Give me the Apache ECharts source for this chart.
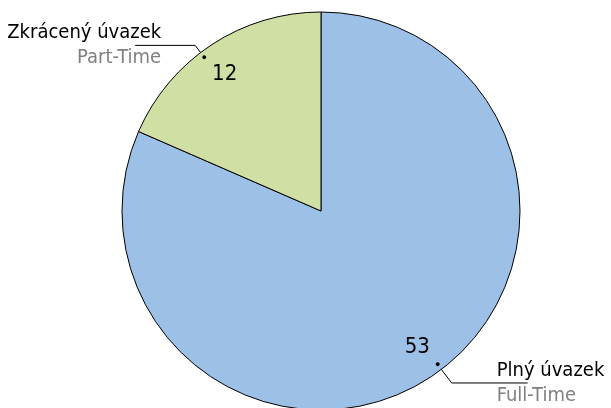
<!DOCTYPE html>
<html>
<head>
<meta charset="utf-8">
<script src="https://cdn.jsdelivr.net/npm/echarts@6/dist/echarts.min.js"></script>
<style>
  html, body { margin: 0; padding: 0; background: #fff; }
  #chart { width: 611px; height: 408px; }
</style>
</head>
<body>
<div id="chart"></div>
<script>
// data
var namesCz = ['Plný úvazek', 'Zkrácený úvazek'];
var namesEn = ['Full-Time', 'Part-Time'];
var values = [53, 12];
var colors = ['#9dc0e6', '#d0dfa3'];

var FONT = '"Liberation Sans Narrow", "DejaVu Sans Condensed", sans-serif';
var myChart = echarts.init(document.getElementById('chart'));

var center = [321, 211];

// main slices
var mainData = values.map(function (v, i) {
    return { value: v, name: namesCz[i], itemStyle: { color: colors[i] } };
});
// invisible copies, only for labels
function ghost(extra) {
    return values.map(function (v, i) {
        var d = { value: v, name: namesCz[i], itemStyle: { color: 'rgba(0,0,0,0)' } };
        if (extra) Object.assign(d, extra(i));
        return d;
    });
}

option = {
    animation: false,
    backgroundColor: '#fff',
    series: [{
        type: 'pie',
        center: center,
        radius: 199,
        startAngle: 90,
        clockwise: true,
        silent: true,
        label: { show: false },
        labelLine: { show: false },
        itemStyle: { borderColor: '#000', borderWidth: 1 },
        data: mainData
    }, {
        // value labels
        type: 'pie',
        center: center,
        radius: [129, 199],
        startAngle: 92,
        silent: true,
        label: {
            show: true,
            position: 'inside',
            formatter: '{c}',
            fontFamily: FONT,
            fontSize: 22,
            color: '#000'
        },
        labelLine: { show: false },
        data: ghost()
    }, {
        // dots at start of leader lines
        type: 'pie',
        center: center,
        radius: [186, 194],
        startAngle: 94,
        silent: true,
        label: {
            show: true,
            position: 'inside',
            formatter: '\u25CF',
            fontSize: 9,
            color: '#000'
        },
        labelLine: { show: false },
        data: ghost()
    }, {
        // category labels with leader lines
        type: 'pie',
        center: center,
        radius: 190,
        startAngle: 94,
        silent: true,
        label: {
            show: true,
            position: 'outside',
            overflow: 'none',
            fontFamily: FONT,
            formatter: function (p) {
                return '{a|' + namesCz[p.dataIndex] + '}\n{b|' + namesEn[p.dataIndex] + '}';
            },
            rich: {
                a: { fontFamily: FONT, fontSize: 20, color: '#000', lineHeight: 25 },
                b: { fontFamily: FONT, fontSize: 20, color: '#808080', lineHeight: 25 }
            }
        },
        labelLine: {
            show: true,
            lineStyle: { color: '#000', width: 1 }
        },
        data: ghost(function (i) {
            return i === 0 ? {
                label: { distanceToLabelLine: -31, align: 'left' },
                labelLine: { length: 26, length2: 76 }
            } : {
                label: { distanceToLabelLine: -26, align: 'right' },
                labelLine: { length: 18, length2: 60 }
            };
        })
    }]
};
myChart.setOption(option);
</script>
</body>
</html>
